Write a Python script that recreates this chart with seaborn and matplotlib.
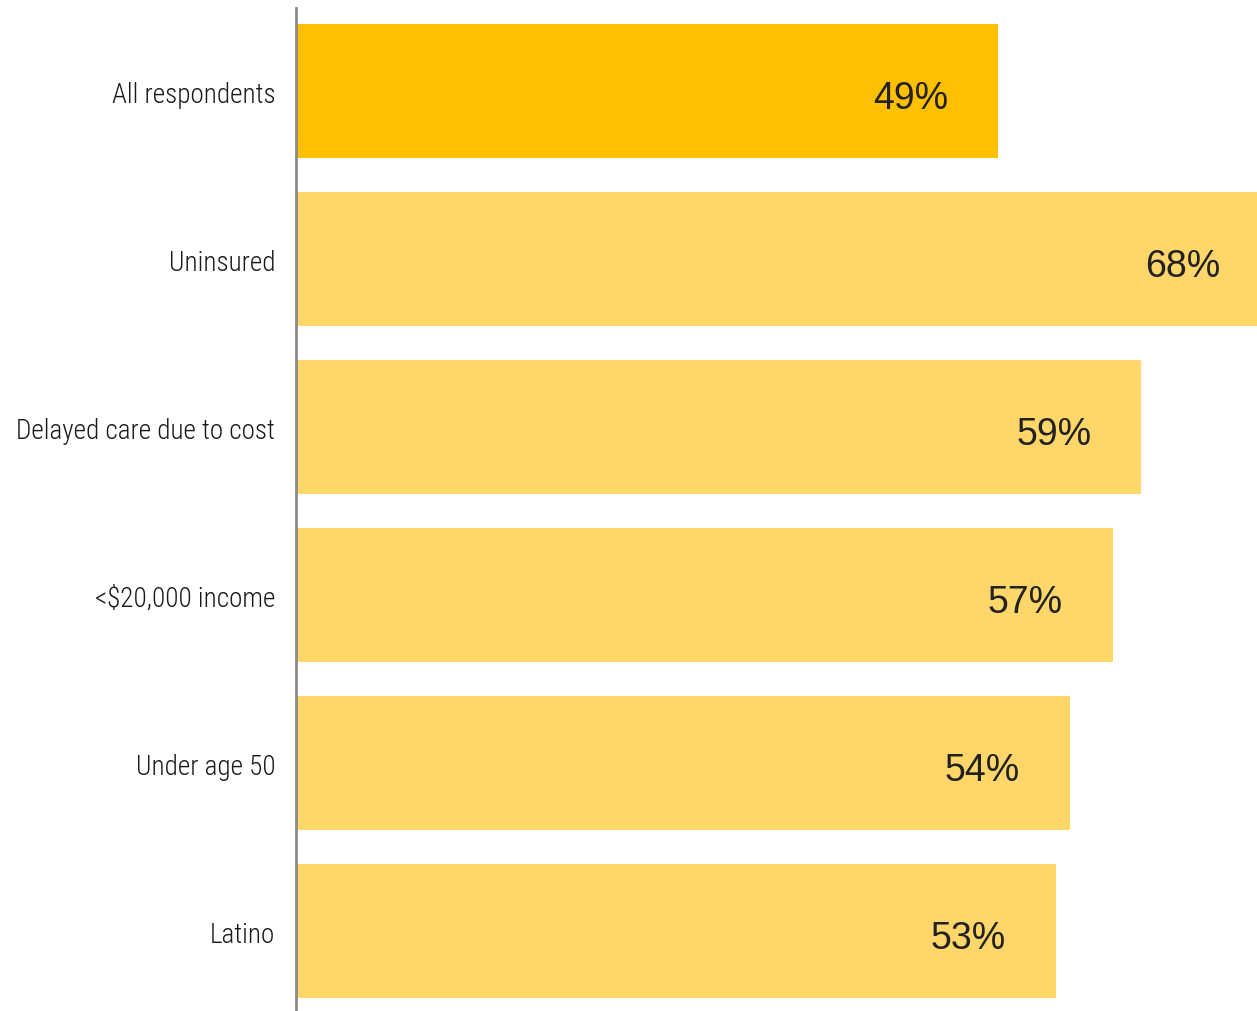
import matplotlib
matplotlib.use("Agg")
import matplotlib.pyplot as plt
import seaborn as sns
import pandas as pd

categories = ["All respondents", "Uninsured", "Delayed care due to cost",
              "<$20,000 income", "Under age 50", "Latino"]
values = [49, 68, 59, 57, 54, 53]
bar_colors = ["#FFC000", "#FED669", "#FED669", "#FED669", "#FED669", "#FED669"]

df = pd.DataFrame({"group": categories, "pct": values})

sns.set_theme(style="white")
plt.rcParams["font.family"] = ["Liberation Sans", "DejaVu Sans"]

fig = plt.figure(figsize=(12.57, 10.12), dpi=100)
ax = fig.add_axes([296 / 1257, 0, 1 - 296 / 1257, 1])

sns.barplot(data=df, y="group", x="pct", hue="group",
            palette=dict(zip(categories, bar_colors)),
            orient="h", width=0.8, saturation=1, legend=False,
            linewidth=0, ax=ax)

ax.set_xlim(0, 67.06)
ax.set_ylim(5.476, -0.548)
ax.set_xlabel("")
ax.set_ylabel("")
ax.set_xticks([])

for side in ["top", "right", "bottom"]:
    ax.spines[side].set_visible(False)
ax.spines["left"].set_color("#8a8a8a")
ax.spines["left"].set_linewidth(2)
ax.spines["left"].set_bounds(-0.494, 5.476)
ax.spines["left"].set_zorder(5)

ax.set_yticks(range(len(categories)), labels=categories,
              fontfamily=["Roboto Condensed", "DejaVu Sans"],
              fontweight=300, fontsize=19.5, color="#1a1a1a")
ax.tick_params(axis="y", length=0, pad=15)

for i, v in enumerate(values):
    ax.annotate(f"{v}%", xy=(v, i), xytext=(-36, -5), textcoords="offset points",
                ha="right", va="center", fontsize=27, color="#222222",
                fontfamily=["Liberation Sans", "DejaVu Sans"],
                fontstretch="normal", annotation_clip=False)

fig.savefig("out.png", dpi=100)
